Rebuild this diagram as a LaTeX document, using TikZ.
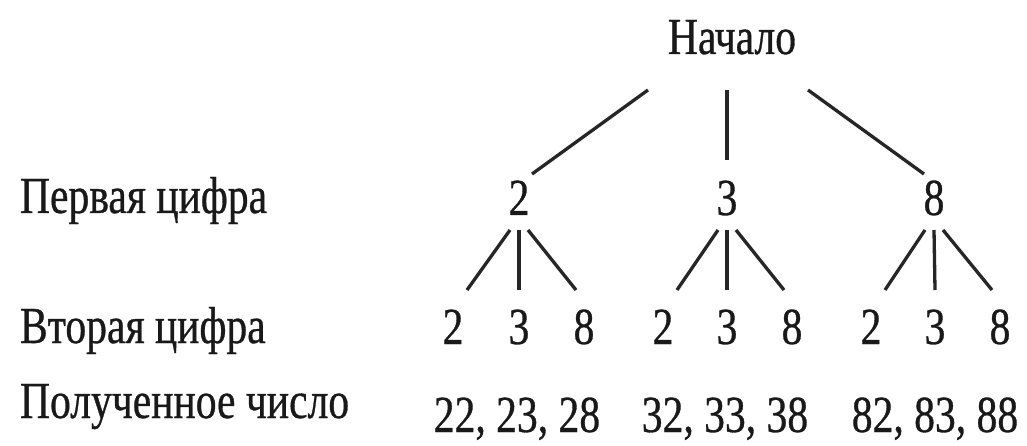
\documentclass[tikz,border=0pt]{standalone}
\usepackage{fontspec}
\setmainfont{Liberation Serif}[FakeStretch=0.8, FakeBold=0.6]
\usetikzlibrary{calc}
\tikzset{
  txt/.style={inner sep=0pt, outer sep=0pt, anchor=base, font=\fontsize{52}{60}\selectfont, text=black!90},
  lbl/.style={txt, anchor=base west},
  edge/.style={line width=3.3pt, black!85}
}
\begin{document}
\begin{tikzpicture}[x=1pt, y=-1pt]
\fill[white] (0,0) rectangle (1027,446);
\useasboundingbox (0,0) rectangle (1027,446);
% labels
\node[lbl] (l1) at (20,213) {Первая цифра};
\node[lbl] (l2) at (20,343) {Вторая цифра};
\node[lbl] (l3) at (20,418) {Полученное число};
% tree
\node[txt] (start) at (732,54) {Начало};
\node[txt] (f2) at (519,215) {2};
\node[txt] (f3) at (727,215) {3};
\node[txt] (f8) at (934,215) {8};
\node[txt] (s22) at (453,344) {2};
\node[txt] (s23) at (519,344) {3};
\node[txt] (s28) at (584,344) {8};
\node[txt] (s32) at (663,344) {2};
\node[txt] (s33) at (727,344) {3};
\node[txt] (s38) at (792,344) {8};
\node[txt] (s82) at (871,344) {2};
\node[txt] (s83) at (935,344) {3};
\node[txt] (s88) at (1000,344) {8};
\node[txt] (r2) at (517,432) {22, 23, 28};
\node[txt] (r3) at (725,432) {32, 33, 38};
\node[txt] (r8) at (935,432) {82, 83, 88};
% connectors from start
\draw[edge] ($(start.base)+(-84,36)$) -- ($(f2.base)+(13,-41)$);
\draw[edge] ($(start.base)+(-5,36)$) -- ($(f3.base)+(0,-55)$);
\draw[edge] ($(start.base)+(76,36)$) -- ($(f8.base)+(-10,-41)$);
% second level
\foreach \p/\a/\b/\c in {f2/s22/s23/s28, f3/s32/s33/s38, f8/s82/s83/s88}{
  \draw[edge] ($(\p.base)+(-9,15)$) -- ($(\a.base)+(14,-54)$);
  \draw[edge] ($(\p.base)+(0,15)$) -- ($(\b.base)+(0,-54)$);
  \draw[edge] ($(\p.base)+(9,15)$) -- ($(\c.base)+(-8,-54)$);
}
\end{tikzpicture}
\end{document}
